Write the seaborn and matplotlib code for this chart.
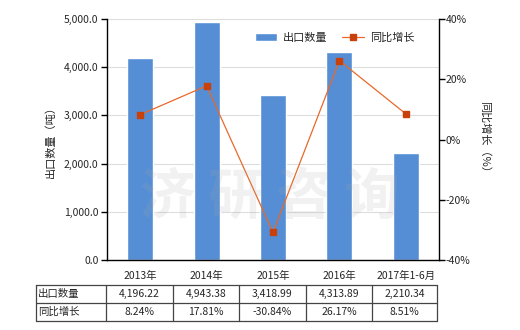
import matplotlib
matplotlib.use("Agg")
import matplotlib.pyplot as plt
import seaborn as sns
import pandas as pd
import numpy as np

categories = ["2013年", "2014年", "2015年", "2016年", "2017年1-6月"]
export_qty = [4196.22, 4943.38, 3418.99, 4313.89, 2210.34]
yoy_growth = [8.24, 17.81, -30.84, 26.17, 8.51]
qty_labels = ["4,196.22", "4,943.38", "3,418.99", "4,313.89", "2,210.34"]
growth_labels = ["8.24%", "17.81%", "-30.84%", "26.17%", "8.51%"]
row_names = ["出口数量", "同比增长"]

sns.set_theme(style="white")
plt.rcParams['font.family'] = ['Noto Sans CJK SC', 'DejaVu Sans']
plt.rcParams['axes.unicode_minus'] = False

fig = plt.figure(figsize=(5.2, 3.3), dpi=100)
ax = fig.add_axes([107/520, 1-260/330, (439-107)/520, (260-19)/330])

df = pd.DataFrame({"cat": categories, "qty": export_qty})
sns.barplot(data=df, x="cat", y="qty", ax=ax, color="#558ED5", saturation=1,
            width=0.39, label="出口数量", zorder=2)
ax.set_ylim(0, 5000)
ax.set_yticks(np.arange(0, 5001, 1000))
ax.set_yticklabels([f"{v:,.1f}" for v in np.arange(0, 5001, 1000)], fontsize=7.5)
ax.set_xlim(-0.5, 4.5)
ax.set_xticks(range(5))
ax.set_xticklabels(categories, fontsize=7.5)
ax.tick_params(axis='x', length=0, pad=8)
ax.tick_params(axis='y', length=4, width=1, color='black', direction='out', pad=2, left=True)
ax.grid(axis='y', color='#DDDDDD', linewidth=0.8, zorder=0)
ax.set_axisbelow(True)
ax.set_xlabel("")
ax.set_ylabel("出口数量（吨）", fontsize=8, labelpad=6)
for s in ['left', 'bottom']:
    ax.spines[s].set_color('black')
    ax.spines[s].set_linewidth(1)
ax.spines['top'].set_visible(False)
ax.spines['right'].set_visible(False)

ax2 = ax.twinx()
ax2.plot(range(5), yoy_growth, color="#E8692A", linewidth=0.9, marker='s',
         markersize=4.5, markerfacecolor="#C8400A", markeredgecolor="#C8400A",
         label="同比增长", zorder=3)
ax2.set_ylim(-40, 40)
ax2.set_yticks(np.arange(-40, 41, 20))
ax2.set_yticklabels([f"{v}%" for v in range(-40, 41, 20)], fontsize=7.5)
ax2.tick_params(axis='y', length=4, width=1, color='black', direction='out', pad=1, right=True)
ax2.set_ylabel("同比增长（%）", fontsize=8, rotation=270, labelpad=14)
ax2.spines['right'].set_color('black')
ax2.spines['right'].set_linewidth(1)
for s in ['top', 'left', 'bottom']:
    ax2.spines[s].set_visible(False)
ax2.grid(False)

h1, l1 = ax.get_legend_handles_labels()
h2, l2 = ax2.get_legend_handles_labels()
ax.legend(h1 + h2, l1 + l2, loc='upper right', bbox_to_anchor=(0.955, 0.985), ncol=2,
          frameon=False, fontsize=8, handlelength=2.0, columnspacing=1.3, handletextpad=0.5)

# watermark
fig.text(0.52, 0.40, "济 研 咨 询", fontsize=40, color='#AAAAAA', alpha=0.16,
         ha='center', va='center', fontweight='bold', zorder=0)

# table
col_edges = [36, 106, 173, 239, 306, 372, 437]
row_edges = [285, 303, 321]
W, H = 520, 330
def fx(x): return x / W
def fy(y): return 1 - y / H
for y in row_edges:
    fig.add_artist(plt.Line2D([fx(col_edges[0]), fx(col_edges[-1])], [fy(y), fy(y)],
                              color='#444444', linewidth=0.9))
for x in col_edges:
    fig.add_artist(plt.Line2D([fx(x), fx(x)], [fy(row_edges[0]), fy(row_edges[-1])],
                              color='#444444', linewidth=0.9))
rows = [qty_labels, growth_labels]
for r in range(2):
    yc = (row_edges[r] + row_edges[r+1]) / 2
    fig.text(fx(col_edges[0] + 2), fy(yc), row_names[r], fontsize=7.5, ha='left', va='center')
    for c in range(5):
        xc = (col_edges[c+1] + col_edges[c+2]) / 2
        fig.text(fx(xc), fy(yc), rows[r][c], fontsize=7.5, ha='center', va='center')

fig.savefig("out.png", dpi=100)
